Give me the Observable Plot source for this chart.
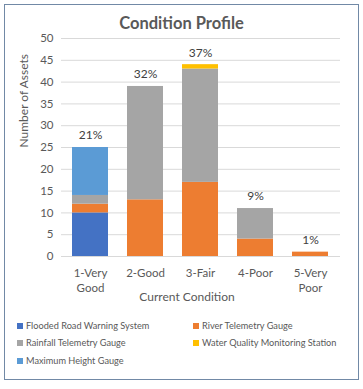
<!DOCTYPE html>
<html><head><meta charset="utf-8">
<script src="https://cdn.jsdelivr.net/npm/d3@7"></script>
<script src="https://cdn.jsdelivr.net/npm/@observablehq/plot@0.6"></script>
<style>
body{margin:0;background:#fff;font-family:Lato,"Open Sans",sans-serif;}
#page{position:relative;width:363px;height:389px;overflow:hidden;}
#frame{position:absolute;left:4px;top:4px;width:353px;height:374px;border:1px solid #7189a6;}
#title{position:absolute;left:0;top:11px;width:363px;text-align:center;font-size:16.5px;font-weight:bold;color:#595959;line-height:24px;}
#chart{position:absolute;left:0;top:0;}
#legend{position:absolute;left:0;top:318px;width:363px;font-size:9.2px;color:#595959;}
.item{position:absolute;white-space:nowrap;line-height:12px;}
.sw{display:inline-block;width:6px;height:6px;margin-right:3px;vertical-align:0px;}
</style></head>
<body>
<div id="page">
<div id="frame"></div>
<div id="chart"></div>
<div id="title">Condition Profile</div>
<div id="legend"></div>
</div>
<script>
const categories = ["1-Very Good", "2-Good", "3-Fair", "4-Poor", "5-Very Poor"];
const categoryLabels = ["1-Very\nGood", "2-Good", "3-Fair", "4-Poor", "5-Very\nPoor"];
const seriesNames = ["Flooded Road Warning System", "River Telemetry Gauge", "Rainfall Telemetry Gauge", "Water Quality Monitoring Station", "Maximum Height Gauge"];
const seriesColors = ["#4472C4", "#ED7D31", "#A5A5A5", "#FFC000", "#5B9BD5"];
const flooded = [10, 0, 0, 0, 0];
const river = [2, 13, 17, 4, 1];
const rainfall = [2, 26, 26, 7, 0];
const waterQuality = [0, 0, 1, 0, 0];
const maxHeight = [11, 0, 0, 0, 0];
const percentLabels = ["21%", "32%", "37%", "9%", "1%"];
const yTicks = [0, 5, 10, 15, 20, 25, 30, 35, 40, 45, 50];

const seriesValues = [flooded, river, rainfall, waterQuality, maxHeight];
const rows = [];
seriesNames.forEach((s, i) => categories.forEach((c, j) => {
  rows.push({category: c, series: s, value: seriesValues[i][j]});
}));
const totals = categories.map((c, j) => ({
  category: c, label: categoryLabels[j], pct: percentLabels[j],
  total: seriesValues.reduce((a, v) => a + v[j], 0)
}));

const font = "Lato, 'Open Sans', sans-serif";
const chart = Plot.plot({
  width: 363, height: 312,
  marginTop: 38, marginBottom: 56, marginLeft: 61, marginRight: 23,
  style: {fontFamily: font, fontSize: "11px", color: "#595959", background: "transparent", overflow: "visible"},
  x: {domain: categories, paddingInner: 0.34, paddingOuter: 0.17, axis: null},
  y: {domain: [0, 50], axis: null},
  color: {domain: seriesNames, range: seriesColors},
  marks: [
    Plot.gridY(yTicks, {stroke: "#d9d9d9", strokeOpacity: 1, strokeWidth: 1}),
    Plot.text(yTicks, {x: null, y: d => d, frameAnchor: "left", dx: -8, textAnchor: "end", text: d => String(d), fill: "#595959", fontSize: 11.5}),
    Plot.barY(rows, Plot.stackY({x: "category", y: "value", fill: "series", order: seriesNames})),
    Plot.text(totals, {x: "category", y: "total", text: "pct", dy: -12, fill: "#404040", fontSize: 12}),
    Plot.text(totals, {x: "category", y: () => 0, text: "label", lineAnchor: "top", dy: 10, lineHeight: 1.3, fill: "#595959", fontSize: 11.5}),
    Plot.text(["Current Condition"], {frameAnchor: "bottom", dx: -14, dy: 44, text: d => d, fill: "#595959", fontSize: 12}),
    Plot.text(["Number of Assets"], {frameAnchor: "left", dx: -37, rotate: -90, text: d => d, fill: "#595959", fontSize: 12})
  ]
});
document.getElementById("chart").appendChild(chart);

const legend = document.getElementById("legend");
const pos = [[17, 0], [193, 0], [17, 17], [193, 17], [17, 35]];
seriesNames.forEach((s, i) => {
  const d = document.createElement("div");
  d.className = "item";
  d.style.left = pos[i][0] + "px";
  d.style.top = pos[i][1] + 2 + "px";
  d.innerHTML = `<span class="sw" style="background:${seriesColors[i]}"></span>${s}`;
  legend.appendChild(d);
});
</script>
</body></html>
